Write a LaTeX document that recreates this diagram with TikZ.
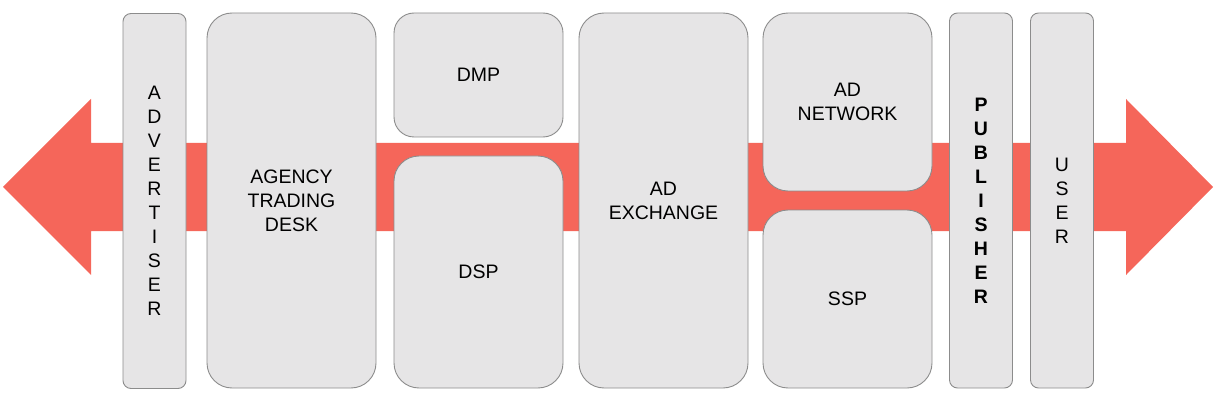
\documentclass[tikz,border=0pt]{standalone}
\usepackage{fontspec}
\setmainfont{Liberation Sans}
\definecolor{arrowred}{RGB}{245,102,90}
\definecolor{boxfill}{RGB}{230,229,230}
\definecolor{boxline}{RGB}{140,140,140}
\begin{document}
\begin{tikzpicture}[x=1pt,y=-1pt,
  box/.style={draw=boxline, fill=boxfill, line width=0.9pt, inner sep=0pt,
    align=center, font=\fontsize{19.5}{24}\selectfont, text=black},
  narrow/.style={box, rounded corners=8pt, minimum width=63pt, minimum height=375pt},
  wide/.style={box, rounded corners=25pt, minimum width=169pt}
]
\useasboundingbox (0,0) rectangle (1216,401);
\fill[arrowred] (3,187) -- (91,99) -- (91,143) -- (1126,143) -- (1126,99) -- (1213,187)
  -- (1126,275) -- (1126,231) -- (91,231) -- (91,275) -- cycle;
\node[narrow] (adv) at (154.5,201) {A\\D\\V\\E\\R\\T\\I\\S\\E\\R};
\node[wide, minimum height=375pt] (atd) at (291.5,200.5) {AGENCY\\TRADING\\DESK};
\node[wide, rounded corners=20pt, minimum height=124pt] (dmp) at (478.5,75) {DMP};
\node[wide, minimum height=232pt] (dsp) at (478.5,272) {DSP};
\node[wide, minimum height=375pt] (adx) at (663.5,200.5) {AD\\EXCHANGE};
\node[wide, minimum height=178pt] (adn) at (847.5,102) {AD\\NETWORK};
\node[wide, minimum height=178pt] (ssp) at (847.5,299) {SSP};
\node[narrow, font=\fontsize{19.5}{24}\selectfont\bfseries] (pub) at (981,200.5) {P\\U\\B\\L\\I\\S\\H\\E\\R};
\node[narrow] (usr) at (1062,200.5) {U\\S\\E\\R};
\end{tikzpicture}
\end{document}
